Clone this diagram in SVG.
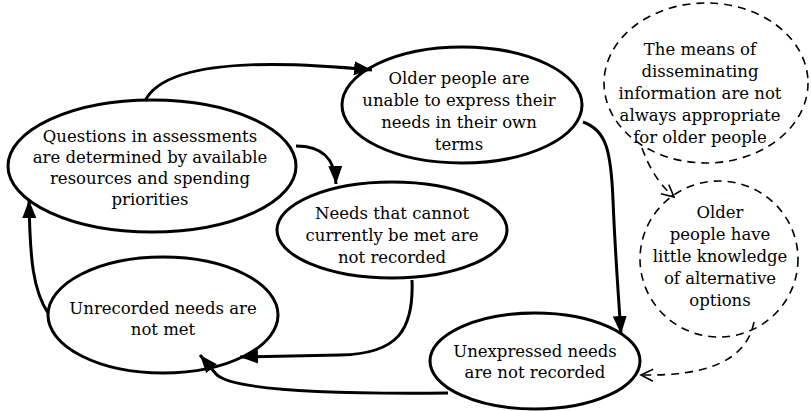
<svg xmlns="http://www.w3.org/2000/svg" width="811" height="411" viewBox="0 0 811 411">
<style>
.n{fill:#fff;stroke:#000;stroke-width:3}
.d{fill:#fff;stroke:#000;stroke-width:1.6;stroke-dasharray:8 6}
.c{fill:none;stroke:#000;stroke-width:3}
.cd{fill:none;stroke:#000;stroke-width:1.6;stroke-dasharray:8 6}
.t{font-family:'DejaVu Serif','Liberation Serif',serif;font-size:16.5px;text-anchor:middle;fill:#000}
</style>
<defs>
<marker id="ah" markerUnits="userSpaceOnUse" markerWidth="20" markerHeight="16" refX="18" refY="8" orient="auto">
<path d="M0,1 L18,8 L0,15 Z" fill="#000"/>
</marker>
<marker id="oh" markerUnits="userSpaceOnUse" markerWidth="16" markerHeight="16" refX="14" refY="8" orient="auto">
<path d="M2,2 L14,8 L2,14" fill="none" stroke="#000" stroke-width="1.6"/>
</marker>
</defs>
<rect width="811" height="411" fill="#fff"/>
<g id="n1">
<ellipse class="n" cx="152" cy="166" rx="144" ry="66"/>
<text class="t" x="150" y="142">Questions in assessments</text>
<text class="t" x="150" y="163">are determined by available</text>
<text class="t" x="150" y="184">resources and spending</text>
<text class="t" x="150" y="205">priorities</text>
</g>
<g id="n2">
<ellipse class="n" cx="462" cy="105" rx="120" ry="58"/>
<text class="t" x="459" y="84">Older people are</text>
<text class="t" x="459" y="106">unable to express their</text>
<text class="t" x="459" y="128">needs in their own</text>
<text class="t" x="459" y="150">terms</text>
</g>
<g id="n3">
<ellipse class="d" cx="706" cy="83" rx="102" ry="80"/>
<text class="t" x="700" y="55">The means of</text>
<text class="t" x="700" y="77">disseminating</text>
<text class="t" x="700" y="99">information are not</text>
<text class="t" x="700" y="121">always appropriate</text>
<text class="t" x="700" y="143">for older people</text>
</g>
<g id="n4">
<ellipse class="d" cx="719" cy="259" rx="79" ry="78"/>
<text class="t" x="720" y="218">Older</text>
<text class="t" x="720" y="240">people have</text>
<text class="t" x="720" y="262">little knowledge</text>
<text class="t" x="720" y="284">of alternative</text>
<text class="t" x="720" y="306">options</text>
</g>
<g id="n5">
<ellipse class="n" cx="392" cy="230" rx="115" ry="48"/>
<text class="t" x="392" y="219">Needs that cannot</text>
<text class="t" x="392" y="241">currently be met are</text>
<text class="t" x="392" y="263">not recorded</text>
</g>
<g id="n6">
<ellipse class="n" cx="163" cy="315" rx="115" ry="58"/>
<text class="t" x="163" y="314">Unrecorded needs are</text>
<text class="t" x="163" y="335">not met</text>
</g>
<g id="n7">
<ellipse class="n" cx="535" cy="361" rx="105" ry="48"/>
<text class="t" x="535" y="357">Unexpressed needs</text>
<text class="t" x="535" y="378">are not recorded</text>
</g>
<g id="connectors">
<path class="c" d="M145,101 C165,60 270,60 372,70" marker-end="url(#ah)"/>
<path class="c" d="M296,146 C322,146 335,158 336,184" marker-end="url(#ah)"/>
<path class="c" d="M583,122 C606,130 611,150 613,200 C615,250 618,290 621,334" marker-end="url(#ah)"/>
<path class="c" d="M412,280 C414,330 398,354 340,355 L240,357" marker-end="url(#ah)"/>
<path class="c" d="M448,393 C350,394 232,392 216,374 L200,355" marker-end="url(#ah)"/>
<path class="c" d="M48,313 C33,290 30,260 29,200" marker-end="url(#ah)"/>
<path class="cd" d="M642,148 C650,170 660,185 674,197" marker-end="url(#oh)"/>
<path class="cd" d="M754,322 C746,362 705,376 641,375" marker-end="url(#oh)"/>
</g>
</svg>
